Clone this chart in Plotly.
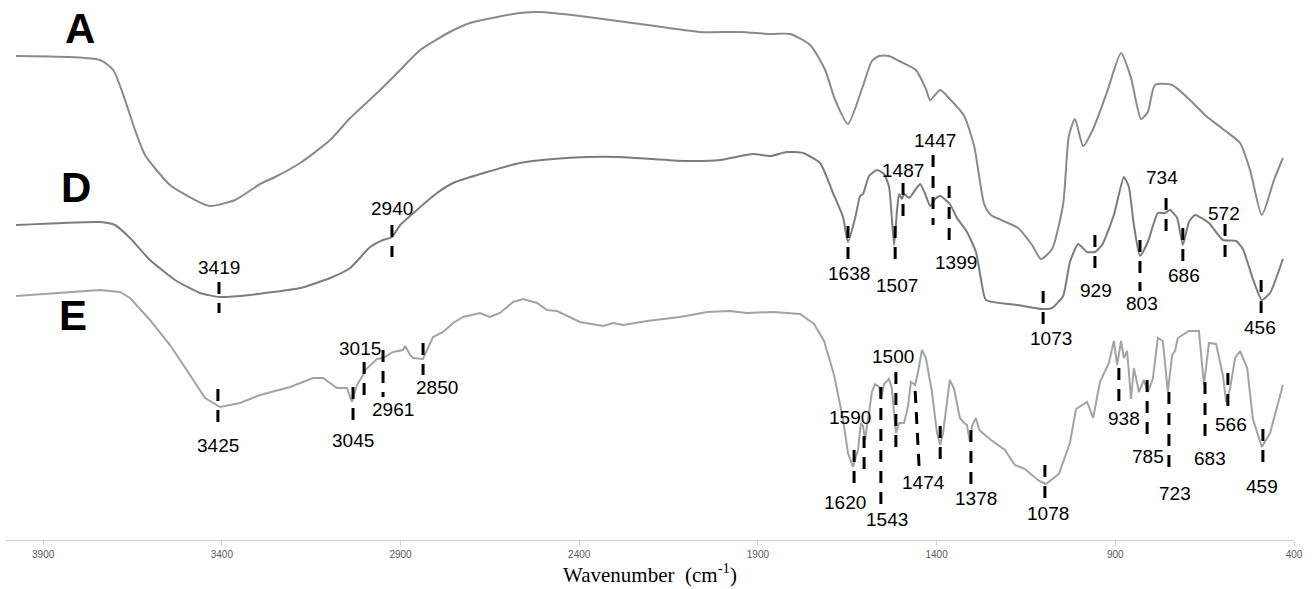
import plotly.graph_objects as go

# ---------------- spectra (wavenumber cm-1, offset transmittance, arbitrary units) -------------
A_wn = [3976, 3741, 3704, 3671, 3643, 3615, 3545, 3475, 3433, 3363,
        3293, 3251, 3181, 3097, 3041, 2957, 2901, 2845, 2762, 2706,
        2566, 2510, 2398, 2230, 2062, 1950, 1866, 1810, 1754, 1712,
        1684, 1648, 1609, 1581, 1561, 1533, 1505, 1458, 1430, 1418,
        1390, 1363, 1323, 1295, 1267, 1248, 1172, 1133, 1108, 1077,
        1046, 1030, 1013, 990, 962, 923, 884, 856, 828, 809,
        789, 741, 694, 646, 599, 551, 523, 490, 456, 431]
A_y = [484, 480, 470, 440, 410, 385, 355, 340, 334, 340,
       356, 363, 377, 400, 422, 450, 470, 490, 508, 517,
       527, 528, 524, 516, 508, 508, 506, 506, 495, 470,
       440, 416, 451, 479, 484, 484, 479, 470, 451, 440,
       450, 441, 424, 394, 336, 325, 312, 295, 281, 291,
       336, 404, 421, 394, 411, 448, 487, 462, 421, 428,
       455, 455, 441, 424, 411, 397, 370, 325, 360, 382]

D_wn = [3976, 3741, 3699, 3657, 3601, 3531, 3461, 3405, 3321, 3181,
        3097, 3041, 2985, 2949, 2924, 2901, 2845, 2798, 2753, 2658,
        2566, 2473, 2378, 2286, 2194, 2098, 2006, 1914, 1866, 1819,
        1774, 1726, 1690, 1662, 1648, 1628, 1614, 1606, 1589, 1567,
        1547, 1533, 1519, 1511, 1505, 1497, 1491, 1477, 1458, 1446,
        1432, 1418, 1404, 1390, 1363, 1343, 1315, 1290, 1276, 1262,
        1172, 1105, 1077, 1046, 1027, 1004, 979, 957, 937, 904,
        876, 862, 848, 831, 809, 781, 761, 747, 727, 711,
        694, 677, 638, 599, 562, 543, 515, 490, 467, 431]
D_y = [315, 318, 315, 302, 280, 260, 247, 243, 245, 252,
       262, 272, 293, 300, 303, 315, 333, 347, 357, 368,
       377, 381, 383, 383, 381, 379, 380, 386, 384, 388,
       387, 377, 347, 323, 298, 322, 344, 346, 364, 370,
       366, 353, 295, 329, 346, 341, 346, 342, 351, 356,
       346, 334, 341, 344, 336, 322, 308, 288, 261, 240,
       235, 231, 232, 244, 278, 296, 288, 288, 295, 325,
       363, 353, 315, 284, 298, 327, 327, 330, 322, 295,
       318, 325, 317, 300, 299, 291, 261, 240, 247, 281]

E_wn = [3976, 3741, 3685, 3657, 3601, 3545, 3489, 3447, 3405, 3349,
        3293, 3209, 3145, 3117, 3078, 3050, 3036, 3022, 3008, 2999,
        2966, 2949, 2921, 2893, 2887, 2873, 2865, 2837, 2826, 2809,
        2781, 2753, 2725, 2678, 2650, 2622, 2585, 2557, 2518, 2490,
        2462, 2398, 2333, 2305, 2277, 2210, 2118, 2042, 1978, 1931,
        1858, 1802, 1782, 1743, 1715, 1687, 1662, 1648, 1634, 1620,
        1612, 1606, 1600, 1592, 1581, 1572, 1561, 1556, 1547, 1533,
        1525, 1514, 1505, 1491, 1480, 1472, 1460, 1452, 1441, 1430,
        1413, 1399, 1390, 1382, 1371, 1363, 1351, 1340, 1335, 1323,
        1315, 1307, 1301, 1290, 1281, 1248, 1209, 1181, 1153, 1113,
        1094, 1058, 1027, 1010, 979, 962, 943, 918, 904, 895,
        884, 876, 867, 856, 848, 834, 820, 809, 795, 781,
        767, 753, 741, 733, 725, 694, 666, 652, 638, 618,
        599, 590, 579, 565, 551, 531, 515, 490, 467, 431]
E_y = [244, 250, 248, 242, 220, 195, 165, 142, 133, 137,
       145, 153, 162, 162, 152, 152, 138, 155, 163, 170,
       181, 182, 188, 190, 194, 185, 182, 181, 190, 203,
       208, 217, 223, 227, 223, 227, 238, 241, 237, 230,
       229, 218, 214, 217, 215, 219, 223, 228, 229, 227,
       228, 227, 226, 216, 199, 165, 121, 87, 73, 90,
       117, 114, 100, 121, 148, 156, 153, 141, 156, 161,
       151, 107, 117, 117, 134, 158, 155, 168, 190, 182,
       148, 107, 95, 107, 138, 160, 151, 132, 122, 117,
       115, 98, 114, 122, 110, 100, 90, 75, 71, 59,
       56, 66, 97, 131, 138, 122, 158, 177, 199, 175,
       199, 182, 189, 141, 172, 148, 160, 148, 161, 202,
       199, 148, 185, 189, 202, 209, 209, 155, 197, 196,
       165, 138, 151, 182, 189, 172, 121, 93, 107, 155]

# sample names
names = ["A", "D", "E"]
name_x = [3797, 3808, 3816]
name_y = [512, 353, 225]

# ---------------- peak annotations ----------------
D_labels = ["3419", "2940", "1638", "1507", "1487", "1447", "1399",
            "1073", "929", "803", "734", "686", "572", "456"]
D_tick_x = [3408, 2924, 1648, 1516, 1494, 1410, 1365, 1102, 957, 831, 758, 711, 593, 492]
D_tick_top = [258, 315, 314, 314, 357, 385, 354, 249, 305, 300, 342, 312, 316, 260]
D_tick_bot = [227, 283, 280, 280, 323, 315, 298, 215, 271, 249, 308, 278, 282, 225]
D_lab_x = [3408, 2924, 1645, 1511, 1494, 1404, 1346, 1080, 954, 825, 769, 708, 596, 495]
D_lab_y = [273, 332, 267, 255, 370, 400, 278, 202, 250, 237, 363, 265, 327, 213]

E_labels = ["3425", "3045", "3015", "2961", "2850", "1620", "1590", "1543", "1500",
            "1474", "", "1378", "1078", "938", "785", "723", "683", "566", "459"]
E_tick_x0 = [3411, 3033, 3002, 2949, 2837, 1631, 1603, 1556, 1514,
             1460, 1390, 1304, 1097, 890, 811, 750, 649, 585, 487]
E_tick_x1 = [3411, 3033, 3002, 2949, 2837, 1631, 1603, 1556, 1514,
             1449, 1390, 1304, 1097, 890, 811, 750, 649, 585, 487]
E_tick_top = [151, 153, 178, 190, 197, 90, 104, 153, 168, 149, 114, 110, 75, 172, 160, 148, 158, 167, 111]
E_tick_bot = [117, 120, 145, 143, 165, 55, 70, 35, 90, 73, 80, 55, 41, 138, 102, 68, 100, 132, 77]
E_lab_x = [3411, 3033, 3013, 2921, 2798, 1656, 1642, 1539, 1522,
           1438, 1390, 1290, 1088, 876, 809, 733, 635, 576, 490]
E_lab_y = [95, 100, 192, 131, 153, 38, 123, 21, 184, 58, 0, 42, 27, 122, 84, 47, 82, 116, 54]

x_ticks = [3900, 3400, 2900, 2400, 1900, 1400, 900, 400]

fig = go.Figure()
fig.add_trace(go.Scatter(x=A_wn, y=A_y, mode="lines", name="A",
                         line=dict(color="#8a8a8a", width=2, shape="spline", smoothing=0.6)))
fig.add_trace(go.Scatter(x=D_wn, y=D_y, mode="lines", name="D",
                         line=dict(color="#7c7c7c", width=2, shape="spline", smoothing=0.5)))
fig.add_trace(go.Scatter(x=E_wn, y=E_y, mode="lines", name="E",
                         line=dict(color="#a3a3a3", width=2)))

annots = []
shapes = []
lab_font = dict(family="Liberation Sans, Arial", size=19, color="black")

for t, x, y in zip(names, name_x, name_y):
    annots.append(dict(x=x, y=y, xref="x", yref="y", text="<b>" + t + "</b>", showarrow=False,
                       font=dict(family="Liberation Sans, Arial", size=42, color="black")))

for lab, x, y0, y1, lx, ly in zip(D_labels, D_tick_x, D_tick_top, D_tick_bot, D_lab_x, D_lab_y):
    shapes.append(dict(type="line", xref="x", yref="y", x0=x, x1=x, y0=y0, y1=y1,
                       line=dict(color="black", width=3, dash="12px,9px")))
    annots.append(dict(x=lx, y=ly, xref="x", yref="y", text=lab, showarrow=False, font=lab_font))

for lab, x0, x1, y0, y1, lx, ly in zip(E_labels, E_tick_x0, E_tick_x1, E_tick_top, E_tick_bot, E_lab_x, E_lab_y):
    shapes.append(dict(type="line", xref="x", yref="y", x0=x0, x1=x1, y0=y0, y1=y1,
                       line=dict(color="black", width=3, dash="12px,9px")))
    if lab:
        annots.append(dict(x=lx, y=ly, xref="x", yref="y", text=lab, showarrow=False, font=lab_font))

fig.update_layout(
    width=1314, height=589,
    margin=dict(l=6, r=20, t=0, b=49),
    paper_bgcolor="white", plot_bgcolor="white",
    showlegend=False,
    annotations=annots, shapes=shapes,
    xaxis=dict(range=[4004, 400], tickvals=x_ticks, ticktext=[str(v) for v in x_ticks],
               showline=True, linecolor="#d0d0d0", linewidth=1,
               ticks="outside", ticklen=5, tickcolor="#d0d0d0",
               tickfont=dict(family="Liberation Sans, Arial", size=10, color="#595959"),
               showgrid=False, zeroline=False,
               title=dict(text="Wavenumber  (cm<sup>-1</sup>)", standoff=4,
                          font=dict(family="Liberation Serif, Times New Roman", size=21, color="black"))),
    yaxis=dict(visible=False, range=[0, 540]),
)

fig.write_html("out.html")
